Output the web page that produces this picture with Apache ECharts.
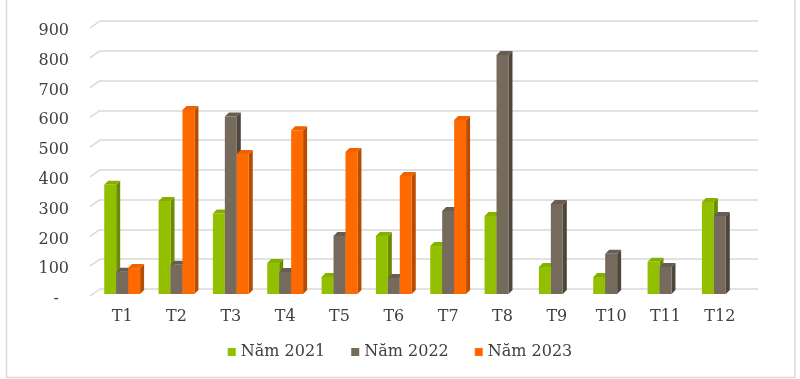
<!DOCTYPE html>
<html>
<head>
<meta charset="utf-8">
<script src="https://cdn.jsdelivr.net/npm/echarts@6/dist/echarts.min.js"></script>
<style>html,body{margin:0;padding:0;background:#fff;}#c{width:800px;height:379px;}</style>
</head>
<body>
<div id="c"></div>
<script>
const categories = ['T1','T2','T3','T4','T5','T6','T7','T8','T9','T10','T11','T12'];
const seriesNames = ['Năm 2021','Năm 2022','Năm 2023'];
const v2021 = [367, 312, 270, 104, 57, 195, 161, 262, 91, 57, 108, 309];
const v2022 = [75, 98, 596, 74, 195, 54, 279, 803, 302, 135, 91, 262];
const v2023 = [87, 618, 470, 550, 477, 396, 584, null, null, null, null, null];
const tickValues = [0, 100, 200, 300, 400, 500, 600, 700, 800, 900];

const fronts = ['#92C000', '#756A5C', '#FF6A00'];
const sides = ['#6A8C00', '#4E463D', '#B84C00'];
const tops = ['#86B000', '#675D50', '#F06200'];
const FONT = 'DejaVu Serif';
const TXT = '#404040';

function makeBarSeries(idx, values) {
  return {
    type: 'custom',
    name: seriesNames[idx],
    xAxisIndex: 1, yAxisIndex: 1,
    itemStyle: { color: fronts[idx] },
    encode: { x: 0, y: 1 },
    data: values.map((v, i) => [i, v]),
    renderItem: function (params, api) {
      const v = api.value(1);
      if (v === null || v === undefined || isNaN(v)) return;
      const ci = api.value(0);
      const base = api.coord([ci, 0]);
      const top = api.coord([ci, v]);
      const band = api.size([1, 0])[0];
      const bw = band * 0.22;
      const x0 = base[0] + (idx - 1.5) * bw;
      const d = 4;
      return {
        type: 'group',
        children: [
          { type: 'polygon', shape: { points: [[x0 + bw, top[1]], [x0 + bw + d, top[1] - d], [x0 + bw + d, base[1] - d], [x0 + bw, base[1]]] }, style: { fill: sides[idx] } },
          { type: 'polygon', shape: { points: [[x0, top[1]], [x0 + d, top[1] - d], [x0 + bw + d, top[1] - d], [x0 + bw, top[1]]] }, style: { fill: tops[idx] } },
          { type: 'rect', shape: { x: x0, y: top[1], width: bw, height: base[1] - top[1] }, style: { fill: fronts[idx] } }
        ]
      };
    }
  };
}

const chart = echarts.init(document.getElementById('c'), null, { renderer: 'canvas' });
chart.setOption({
  backgroundColor: '#ffffff',
  animation: false,
  graphic: [{
    type: 'rect', silent: true, z: -10,
    shape: { x: 6.5, y: -2, width: 788.5, height: 379.5 },
    style: { fill: 'none', stroke: '#d9d9d9', lineWidth: 1.5 }
  }],
  legend: {
    bottom: 14, left: 'center',
    itemWidth: 8, itemHeight: 8, itemGap: 26, icon: 'rect',
    data: seriesNames,
    textStyle: { fontFamily: FONT, fontSize: 16, color: TXT }
  },
  grid: [
    { left: 100, right: 42, top: 21, bottom: 90 },
    { left: 95, right: 53, top: 26, bottom: 85 },
    { left: 95, right: 53, top: 31, bottom: 80 }
  ],
  xAxis: [
    { gridIndex: 0, type: 'value', min: 0, max: 1, show: false },
    { gridIndex: 1, type: 'category', data: categories,
      axisLine: { show: false }, axisTick: { show: false },
      axisLabel: { fontFamily: FONT, fontSize: 16, color: TXT, margin: 15 } },
    { gridIndex: 2, type: 'value', min: 0, max: 1, show: false }
  ],
  yAxis: [
    { gridIndex: 0, type: 'value', min: 0, max: 900, interval: 100,
      axisLabel: { show: false }, axisLine: { show: false }, axisTick: { show: false },
      splitLine: { lineStyle: { color: '#d9d9d9', width: 1.5 } } },
    { gridIndex: 1, type: 'value', min: 0, max: 900, interval: 100, show: false,
      splitLine: { show: false } },
    { gridIndex: 2, type: 'value', min: 0, max: 900, interval: 100,
      axisLine: { show: false }, axisTick: { show: false }, splitLine: { show: false },
      axisLabel: { fontFamily: FONT, fontSize: 16, color: TXT, margin: 26,
        formatter: function (v) { return v === 0 ? '-\u00a0\u00a0' : String(v); } } }
  ],
  series: [
    {
      type: 'custom', xAxisIndex: 0, yAxisIndex: 0, silent: true,
      data: tickValues.map(v => [0, v]),
      encode: { x: 0, y: 1 },
      renderItem: function (params, api) {
        const p = api.coord([0, api.value(1)]);
        return { type: 'line', shape: { x1: p[0] - 10, y1: p[1] + 7, x2: p[0], y2: p[1] }, style: { stroke: '#d9d9d9', lineWidth: 1.5 } };
      }
    },
    makeBarSeries(0, v2021),
    makeBarSeries(1, v2022),
    makeBarSeries(2, v2023)
  ]
});
</script>
</body>
</html>
